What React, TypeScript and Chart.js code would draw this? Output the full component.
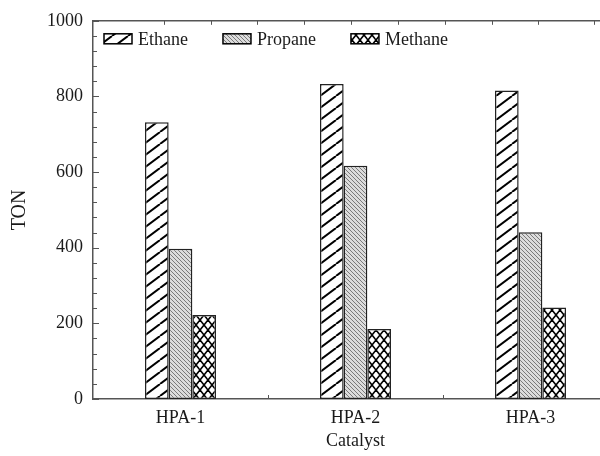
import React, { useEffect, useRef } from 'react';
import { Chart, registerables } from 'chart.js';
Chart.register(...registerables);

const categories = ['HPA-1', 'HPA-2', 'HPA-3'];
const seriesNames = ['Ethane', 'Propane', 'Methane'];
const ethane = [732, 833, 816];
const propane = [397, 617, 441];
const methane = [222, 185, 242];
const yMin = 0;
const yMax = 1000;
const yMajorStep = 200;
const yMinorStep = 40;
const xTitle = 'Catalyst';
const yTitle = 'TON';

const FONT = '"Liberation Serif", "Times New Roman", serif';
const TEXT = '#1a1a1a';
const FRAME = '#555555';

function makePattern(kind: string): CanvasPattern | string {
  const c = document.createElement('canvas');
  let w = 12, h = 12;
  if (kind === 'ethane') { w = 16; h = 12; }
  if (kind === 'propane') { w = 4; h = 4; }
  if (kind === 'methane') { w = 8; h = 10; }
  c.width = w; c.height = h;
  const g = c.getContext('2d')!;
  if (kind === 'ethane') {
    g.fillStyle = '#ffffff'; g.fillRect(0, 0, w, h);
    g.strokeStyle = '#000000'; g.lineWidth = 2;
    for (const dx of [-w, 0, w]) {
      g.beginPath(); g.moveTo(dx, h); g.lineTo(dx + w, 0); g.stroke();
    }
  } else if (kind === 'propane') {
    g.fillStyle = '#dcdcdc'; g.fillRect(0, 0, w, h);
    g.strokeStyle = '#7a7a7a'; g.lineWidth = 1;
    for (const dx of [-w, 0, w]) {
      g.beginPath(); g.moveTo(dx, 0); g.lineTo(dx + w, h); g.stroke();
    }
  } else {
    g.fillStyle = '#ffffff'; g.fillRect(0, 0, w, h);
    g.strokeStyle = '#000000'; g.lineWidth = 1.6;
    for (const dx of [-w, 0, w]) {
      g.beginPath(); g.moveTo(dx, 0); g.lineTo(dx + w, h); g.stroke();
      g.beginPath(); g.moveTo(dx, h); g.lineTo(dx + w, 0); g.stroke();
    }
  }
  const p = g.createPattern(c, 'repeat');
  return p || '#ffffff';
}

const decorPlugin = {
  id: 'decor',
  afterDraw(chart: any) {
    const { ctx, chartArea: a, scales } = chart;
    ctx.save();
    ctx.strokeStyle = FRAME;
    ctx.lineWidth = 1;
    const y = scales.y;
    y.ticks.forEach((t: any) => {
      const py = Math.round(y.getPixelForValue(t.value)) + 0.5;
      const major = t.value % yMajorStep === 0;
      ctx.beginPath();
      ctx.moveTo(a.left, py);
      ctx.lineTo(a.left + (major ? 6 : 4), py);
      ctx.stroke();
    });
    const x = scales.x;
    for (let i = 0; i < categories.length - 1; i++) {
      const px = Math.round((x.getPixelForValue(i) + x.getPixelForValue(i + 1)) / 2) + 0.5;
      ctx.beginPath();
      ctx.moveTo(px, a.bottom);
      ctx.lineTo(px, a.bottom - 4);
      ctx.stroke();
    }
    const x2 = scales.x2;
    x2.ticks.forEach((t: any) => {
      if (t.value === 0) return;
      const px = Math.round(x2.getPixelForValue(t.value)) + 0.5;
      ctx.beginPath();
      ctx.moveTo(px, a.top);
      ctx.lineTo(px, a.top + 4);
      ctx.stroke();
    });
    ctx.font = `18px ${FONT}`;
    ctx.textBaseline = 'middle';
    ctx.textAlign = 'left';
    let lx = a.left + 11;
    const boxW = 28, boxH = 10, ly = a.top + 13;
    chart.data.datasets.forEach((ds: any) => {
      ctx.fillStyle = ds.backgroundColor;
      ctx.fillRect(lx, ly, boxW, boxH);
      ctx.strokeStyle = '#000';
      ctx.lineWidth = 1.5;
      ctx.strokeRect(lx, ly, boxW, boxH);
      ctx.fillStyle = TEXT;
      ctx.fillText(ds.label, lx + boxW + 6, ly + boxH / 2 + 1);
      const tw = ctx.measureText(ds.label).width;
      lx += boxW + 6 + tw + 35;
    });
    ctx.restore();
  },
};

export default function App() {
  const ref = useRef<HTMLCanvasElement>(null);
  useEffect(() => {
    const canvas = ref.current!;
    const values = [ethane, propane, methane];
    const kinds = ['ethane', 'propane', 'methane'];
    const chart = new Chart(canvas, {
      type: 'bar',
      data: {
        labels: categories,
        datasets: seriesNames.map((name, i) => ({
          label: name,
          data: values[i],
          backgroundColor: makePattern(kinds[i]) as any,
          borderColor: '#222222',
          borderWidth: 1.5,
          borderSkipped: false,
          xAxisID: 'x',
          yAxisID: 'y',
          categoryPercentage: 0.406,
          barPercentage: 1.0,
        })),
      },
      options: {
        responsive: false,
        animation: false,
        devicePixelRatio: 1,
        layout: { padding: { left: 0, right: 12, top: 0, bottom: 0 } },
        plugins: { legend: { display: false }, tooltip: { enabled: false } },
        scales: {
          x: {
            type: 'category',
            offset: true,
            grid: { display: false, drawTicks: false },
            border: { display: true, color: FRAME, width: 1.5 },
            ticks: { font: { family: FONT, size: 18 }, color: TEXT, padding: 8 },
            title: {
              display: true, text: xTitle, color: TEXT,
              font: { family: FONT, size: 18 }, padding: { top: 0, bottom: 4 },
            },
            afterFit(s: any) { s.height = 57; },
          },
          x2: {
            type: 'linear',
            position: 'top',
            min: 0,
            max: 10.19,
            grid: { display: false, drawTicks: false },
            border: { display: true, color: FRAME, width: 1.5 },
            ticks: { display: false, stepSize: 1 },
            afterFit(s: any) { s.height = 18; },
          },
          y: {
            min: yMin,
            max: yMax,
            grid: { display: false, drawTicks: false },
            border: { display: true, color: FRAME, width: 1.5 },
            ticks: {
              stepSize: yMinorStep,
              autoSkip: false,
              font: { family: FONT, size: 18 },
              color: TEXT,
              padding: 10,
              callback: (v: any) => (Number(v) % yMajorStep === 0 ? String(v) : ''),
            },
            title: {
              display: true, text: yTitle, color: TEXT,
              font: { family: FONT, size: 20 }, padding: { top: 8, bottom: 0 },
            },
            afterFit(s: any) { s.width = 93; },
          },
        },
      } as any,
      plugins: [decorPlugin],
    });
    return () => chart.destroy();
  }, []);
  return (
    <div style={{ position: 'fixed', left: 0, top: 0, width: 600, height: 456, overflow: 'hidden', background: '#fff' }}>
      <canvas ref={ref} width={630} height={456} style={{ display: 'block' }} />
    </div>
  );
}
